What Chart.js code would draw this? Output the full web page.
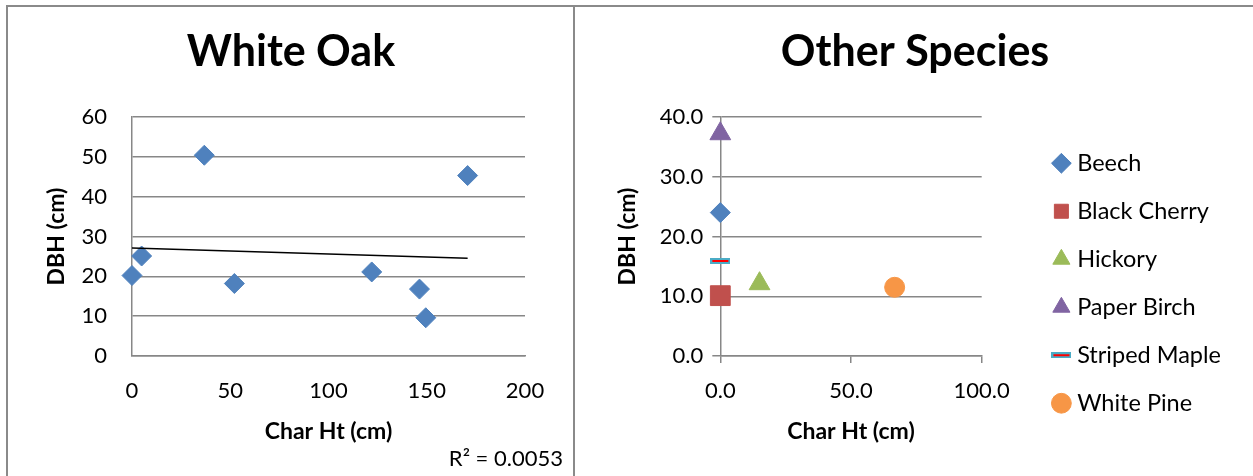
<!DOCTYPE html>
<html>
<head>
<meta charset="utf-8">
<script src="https://cdn.jsdelivr.net/npm/chart.js@4.4.1/dist/chart.umd.min.js"></script>
<style>
  html, body { margin: 0; padding: 0; background: #fff; width: 1253px; height: 476px; overflow: hidden; }
  .box { position: absolute; top: 0; height: 476px; }
  .frame { position: absolute; background: #8a8a8a; }
  #r2 { position: absolute; top: 445px; right: 690px; font: 22px Lato, sans-serif; line-height: 26px; color: #000; white-space: nowrap; }
</style>
</head>
<body>
<div id="oakBox" class="box"><canvas id="oak"></canvas></div>
<div id="otherBox" class="box"><canvas id="other"></canvas></div>
<div class="frame" style="left:6px;top:5px;width:1247px;height:1.5px"></div>
<div class="frame" style="left:6px;top:5px;width:2px;height:471px"></div>
<div class="frame" style="left:573px;top:5px;width:2px;height:471px"></div>
<div id="r2"></div>
<script>
// White Oak: char height vs DBH
const oakCharHt = [0, 4.9, 36.8, 52.1, 122, 146.3, 149.5, 170.8];
const oakDbh = [20.2, 25.1, 50.4, 18.2, 21.1, 16.8, 9.6, 45.3];
const oakR2Label = 'R² = 0.0053';

// Other species, one point each
const speciesNames = ['Beech', 'Black Cherry', 'Hickory', 'Paper Birch', 'Striped Maple', 'White Pine'];
const speciesCharHt = [0, 0, 15.0, 0, 0, 66.7];
const speciesDbh = [24.0, 10.1, 12.1, 37.2, 15.9, 11.5];

const speciesColors = ['#4F81BD', '#C0504D', '#9BBB59', '#8064A2', '#4BACC6', '#F79646'];
const speciesMarkers = ['rectRot', 'rect', 'triangle', 'triangle', 'dash', 'circle'];
const markerRadius = { rectRot: 10, rect: 14, triangle: 12, circle: 10, dash: 10 };

Chart.defaults.font.family = 'Lato, "DejaVu Sans", sans-serif';
Chart.defaults.color = '#000';
Chart.defaults.animation = false;

const gridGray = '#878787';
const tickFont = { size: 22 };
const axisTitleFont = { size: 23, weight: 'bold' };
const legendFontSize = 23.5;

function chartTitle(text) {
    return {
        display: true,
        text,
        color: '#000',
        font: { size: 43, weight: 'bold' },
        padding: { top: 26.4, bottom: 39 },
    };
}

// invisible right-hand axis, only used to reserve room
function spacerAxis(width) {
    return {
        position: 'right',
        display: true,
        grid: { display: false, drawTicks: false },
        border: { display: false },
        ticks: { display: false },
        afterFit: (scale) => { scale.width = width; },
    };
}

function placeCanvas(id, left, width) {
    const box = document.getElementById(id + 'Box');
    box.style.left = left + 'px';
    box.style.width = width + 'px';
    const canvas = document.getElementById(id);
    canvas.width = width;
    canvas.height = 476;
    canvas.style.width = width + 'px';
    canvas.style.height = '476px';
    return canvas;
}

function dashMarker() {
    const c = document.createElement('canvas');
    c.width = 20;
    c.height = 6;
    const g = c.getContext('2d');
    g.fillStyle = '#4BACC6';
    g.fillRect(0, 0, 20, 6);
    g.fillStyle = '#FF0000';
    g.fillRect(2, 2, 16, 2);
    return c;
}

function linearFit(xs, ys) {
    const n = xs.length;
    const mx = xs.reduce((s, v) => s + v, 0) / n;
    const my = ys.reduce((s, v) => s + v, 0) / n;
    let sxy = 0, sxx = 0;
    xs.forEach((x, i) => { sxy += (x - mx) * (ys[i] - my); sxx += (x - mx) * (x - mx); });
    const b = sxy / sxx;
    return { a: my - b * mx, b };
}

// ---- White Oak ----
const oakLeft = 12;
const oakCanvas = placeCanvas('oak', oakLeft, 558);
const fit = linearFit(oakCharHt, oakDbh);
const xLo = Math.min(...oakCharHt);
const xHi = Math.max(...oakCharHt);

new Chart(oakCanvas, {
    type: 'scatter',
    data: {
        datasets: [
            {
                label: 'Linear (White Oak)',
                data: [{ x: xLo, y: fit.a + fit.b * xLo }, { x: xHi, y: fit.a + fit.b * xHi }],
                showLine: true,
                borderColor: '#000',
                borderWidth: 1.5,
                pointRadius: 0,
                clip: false,
            },
            {
                label: 'White Oak',
                data: oakCharHt.map((x, i) => ({ x, y: oakDbh[i] })),
                pointStyle: 'rectRot',
                pointRadius: 10,
                backgroundColor: '#4F81BD',
                borderColor: '#4F81BD',
                borderWidth: 1,
                clip: false,
            },
        ],
    },
    options: {
        responsive: false,
        animation: false,
        layout: { padding: 0 },
        plugins: {
            title: chartTitle('White Oak'),
            legend: { display: false },
            tooltip: { enabled: false },
        },
        scales: {
            x: {
                type: 'linear',
                min: 0,
                max: 200,
                ticks: { stepSize: 50, padding: 22, font: tickFont, maxRotation: 0 },
                grid: { display: false, drawTicks: false },
                border: { display: true, color: gridGray, width: 1.5 },
                title: { display: true, text: 'Char Ht (cm)', font: axisTitleFont, padding: { top: 0, bottom: 30.2 } },
                afterFit: (scale) => { scale.height = 120; },
            },
            y: {
                min: 0,
                max: 60,
                ticks: { stepSize: 10, padding: 25, font: tickFont },
                grid: { color: gridGray, lineWidth: 1.5, drawTicks: false },
                border: { display: true, color: gridGray, width: 1.5 },
                title: { display: true, text: 'DBH (cm)', font: axisTitleFont, padding: { top: 57 - 13.8 - oakLeft, bottom: 0 } },
                afterFit: (scale) => { scale.width = 132 - oakLeft; },
            },
            y2: spacerAxis(45),
        },
    },
});

document.getElementById('r2').textContent = oakR2Label;

// ---- Other Species ----
const measure = document.createElement('canvas').getContext('2d');
measure.font = legendFontSize + 'px Lato, "DejaVu Sans", sans-serif';
const longest = Math.max(...speciesNames.map((n) => measure.measureText(n).width));
const legendPad = 24.5;
const legendBoxW = 8;
const legendWidth = legendPad + legendBoxW + legendFontSize / 2 + longest + 10;
const legendLeft = 1061.7 - legendBoxW / 2 - legendPad;
const otherRight = legendLeft + legendWidth;
const otherLeft = 2 * 915 - otherRight;
const otherCanvas = placeCanvas('other', otherLeft, otherRight - otherLeft);
const dash = dashMarker();

new Chart(otherCanvas, {
    type: 'scatter',
    data: {
        datasets: speciesNames.map((name, i) => ({
            label: name,
            data: [{ x: speciesCharHt[i], y: speciesDbh[i] }],
            pointStyle: speciesMarkers[i] === 'dash' ? dash : speciesMarkers[i],
            pointRadius: markerRadius[speciesMarkers[i]],
            backgroundColor: speciesColors[i],
            borderColor: speciesColors[i],
            borderWidth: 1,
            clip: false,
        })),
    },
    options: {
        responsive: false,
        animation: false,
        layout: { padding: 0 },
        plugins: {
            title: chartTitle('Other Species'),
            tooltip: { enabled: false },
            legend: {
                display: true,
                position: 'right',
                align: 'start',
                maxWidth: 400,
                title: { display: true, text: '', font: { size: 12 }, padding: { top: 0, bottom: 112.6 } },
                labels: {
                    usePointStyle: true,
                    boxWidth: legendBoxW,
                    boxHeight: 14,
                    padding: legendPad,
                    font: { size: legendFontSize },
                    color: '#000',
                },
            },
        },
        scales: {
            x: {
                type: 'linear',
                min: 0,
                max: 100,
                ticks: { stepSize: 50, padding: 15, font: tickFont, maxRotation: 0, callback: (v) => v.toFixed(1) },
                grid: { display: true, drawOnChartArea: false, drawTicks: true, tickLength: 7, color: gridGray, lineWidth: 1.5 },
                border: { display: true, color: gridGray, width: 1.5 },
                title: { display: true, text: 'Char Ht (cm)', font: axisTitleFont, padding: { top: 0, bottom: 30.2 } },
                afterFit: (scale) => { scale.height = 120; },
            },
            y: {
                min: 0,
                max: 40,
                ticks: { stepSize: 10, padding: 9, font: tickFont, callback: (v) => v.toFixed(1) },
                grid: { color: gridGray, lineWidth: 1.5, tickLength: 8 },
                border: { display: true, color: gridGray, width: 1.5 },
                title: { display: true, text: 'DBH (cm)', font: axisTitleFont, padding: { top: 627 - 13.8 - otherLeft, bottom: 0 } },
                afterFit: (scale) => { scale.width = 720 - otherLeft; },
            },
            y2: spacerAxis(legendLeft - 982),
        },
    },
});
</script>
</body>
</html>
